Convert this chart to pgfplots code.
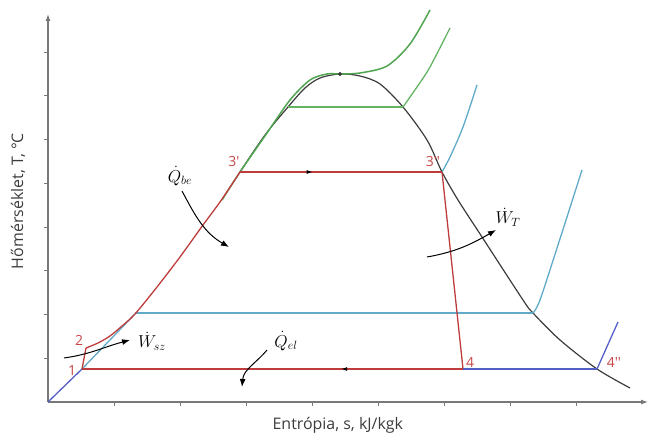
\documentclass[border=0pt]{standalone}
\usepackage{fontspec}
\setmainfont{Open Sans}
\newfontfamily\lab{Open Sans}
\DeclareMathSizes{17}{17}{13}{10}
\usepackage{pgfplots}
\pgfplotsset{compat=1.18}
\usetikzlibrary{decorations.markings, arrows.meta}
\definecolor{axgray}{RGB}{120,120,120}
\definecolor{labgray}{RGB}{60,60,60}
\definecolor{cred}{RGB}{190,60,60}
\definecolor{lred}{RGB}{200,70,70}
\definecolor{cgreen}{RGB}{80,165,80}
\definecolor{lgreen}{RGB}{100,180,100}
\definecolor{lblue}{RGB}{95,170,200}
\definecolor{dblue}{RGB}{85,95,200}
\definecolor{dome}{RGB}{60,60,60}
\begin{document}
\begin{tikzpicture}
\begin{axis}[
  x=1bp, y=1bp,
  xmin=0, xmax=600, ymin=0, ymax=388,
  axis lines=left,
  axis line style={draw=axgray, line width=1.1pt, -{Latex[length=7pt,width=5pt]}},
  xtick={66,132,198,264,330,396,462,528},
  ytick={43.75,87.5,131.25,175,218.75,262.5,306.25,350},
  xticklabels={}, yticklabels={},
  tick align=outside, major tick length=4bp,
  tick style={draw=axgray, line width=0.8pt},
  clip=false,
  xlabel={Entrópia, s, kJ/kgk},
  ylabel={Hőmérséklet, T, °C},
  xlabel style={at={(rel axis cs:0.483,-0.059)}, anchor=center, font=\fontsize{16}{19}\selectfont, text=labgray},
  ylabel style={at={(rel axis cs:-0.05,0.518)}, anchor=center, rotate=0, font=\fontsize{16}{19}\selectfont, text=labgray},
]
\path (axis cs:-48,-35) rectangle (axis cs:605,402);
% saturation dome
\addplot[dome, line width=1.2pt, smooth, tension=0.5] coordinates {
 (192,230) (217,267) (240,295) (257,314) (272,324) (292,328) (312,326) (332,318)
 (355,295) (379,262) (394,230) (410,202) (434,165) (475,102) (485,89) (512,62) (549,33) (582,14)};
\addplot[dome, only marks, mark=*, mark size=1.8pt] coordinates {(292,328)};
% light blue lines
\addplot[lblue, line width=1.3pt] coordinates {(34,33) (87,88)};
\addplot[lblue, line width=1.3pt] coordinates {(87,89) (485,89)};
\addplot[lblue, line width=1.3pt, smooth, tension=0.5] coordinates {(485,89) (492,102) (510,157) (534,232)};
\addplot[lblue, line width=1.3pt, smooth, tension=0.5] coordinates {(394,230) (402,245) (415,275) (429,317)};
% green lines
\addplot[lgreen, line width=1.3pt] coordinates {(240,295) (355,295)};
\addplot[lgreen, line width=1.3pt, smooth, tension=0.5] coordinates {(355,295) (369,315) (382,335) (402,374)};
\addplot[cgreen, line width=1.5pt, smooth, tension=0.5] coordinates {
 (174,202) (192,230) (219,269) (242,302) (262,322) (279,328) (292,328) (312,329) (339,336) (362,358) (382,392)};
% red cycle
\addplot[cred, line width=1.3pt] coordinates {(34,33) (38,54)};
\addplot[cred, line width=1.3pt, smooth, tension=0.5] coordinates {
 (38,54) (50,59) (62,66) (74,76) (87,88) (109,115) (132,145) (155,177) (172,200) (192,230)};
\addplot[cred, line width=1.3pt, postaction={decorate}, decoration={markings, mark=at position 0.36 with {\arrow[black]{Latex[length=6pt,width=4pt]}}}] coordinates {(192,230) (394,230)};
\addplot[cred, line width=1.3pt] coordinates {(394,230) (415,33)};
\addplot[cred, line width=1.3pt, postaction={decorate}, decoration={markings, mark=at position 0.32 with {\arrow[black]{Latex[length=6pt,width=4pt]}}}] coordinates {(415,33) (34,33)};
% dark blue
\addplot[dblue, line width=1.3pt] coordinates {(0,0) (34,33)};
\addplot[dblue, line width=1.3pt] coordinates {(415,33) (549,33)};
\addplot[dblue, line width=1.3pt] coordinates {(549,33) (570,80)};
% point labels
\node[text=lred, font=\lab\fontsize{14}{16}\selectfont] at (axis cs:186,240) {3'};
\node[text=lred, font=\lab\fontsize{14}{16}\selectfont] at (axis cs:385,240) {3''};
\node[text=lred, font=\lab\fontsize{14}{16}\selectfont] at (axis cs:31,62) {2};
\node[text=lred, font=\lab\fontsize{14}{16}\selectfont] at (axis cs:24,31) {1};
\node[text=lred, font=\lab\fontsize{14}{16}\selectfont] at (axis cs:422,40) {4};
\node[text=lred, font=\lab\fontsize{14}{16}\selectfont] at (axis cs:566,40) {4''};
% annotations
\node[font=\fontsize{17}{20}\selectfont] at (axis cs:132,226) {$\dot{Q}_{be}$};
\node[font=\fontsize{17}{20}\selectfont] at (axis cs:104,61) {$\dot{W}_{sz}$};
\node[font=\fontsize{17}{20}\selectfont] at (axis cs:460,185) {$\dot{W}_{T}$};
\node[font=\fontsize{17}{20}\selectfont] at (axis cs:238,61) {$\dot{Q}_{el}$};
\draw[black, line width=1pt, -{Latex[length=8pt,width=6pt]}] (axis cs:134,211) to[out=-62,in=150] (axis cs:181,155);
\draw[black, line width=1pt, -{Latex[length=8pt,width=6pt]}] (axis cs:16,44) to[out=8,in=195] (axis cs:82,62);
\draw[black, line width=1pt, -{Latex[length=8pt,width=6pt]}] (axis cs:379,145) to[out=10,in=210] (axis cs:448,172);
\draw[black, line width=1pt, -{Latex[length=8pt,width=6pt]}] (axis cs:219,52) to[out=-130,in=85] (axis cs:194,15);
\end{axis}
\end{tikzpicture}
\end{document}
